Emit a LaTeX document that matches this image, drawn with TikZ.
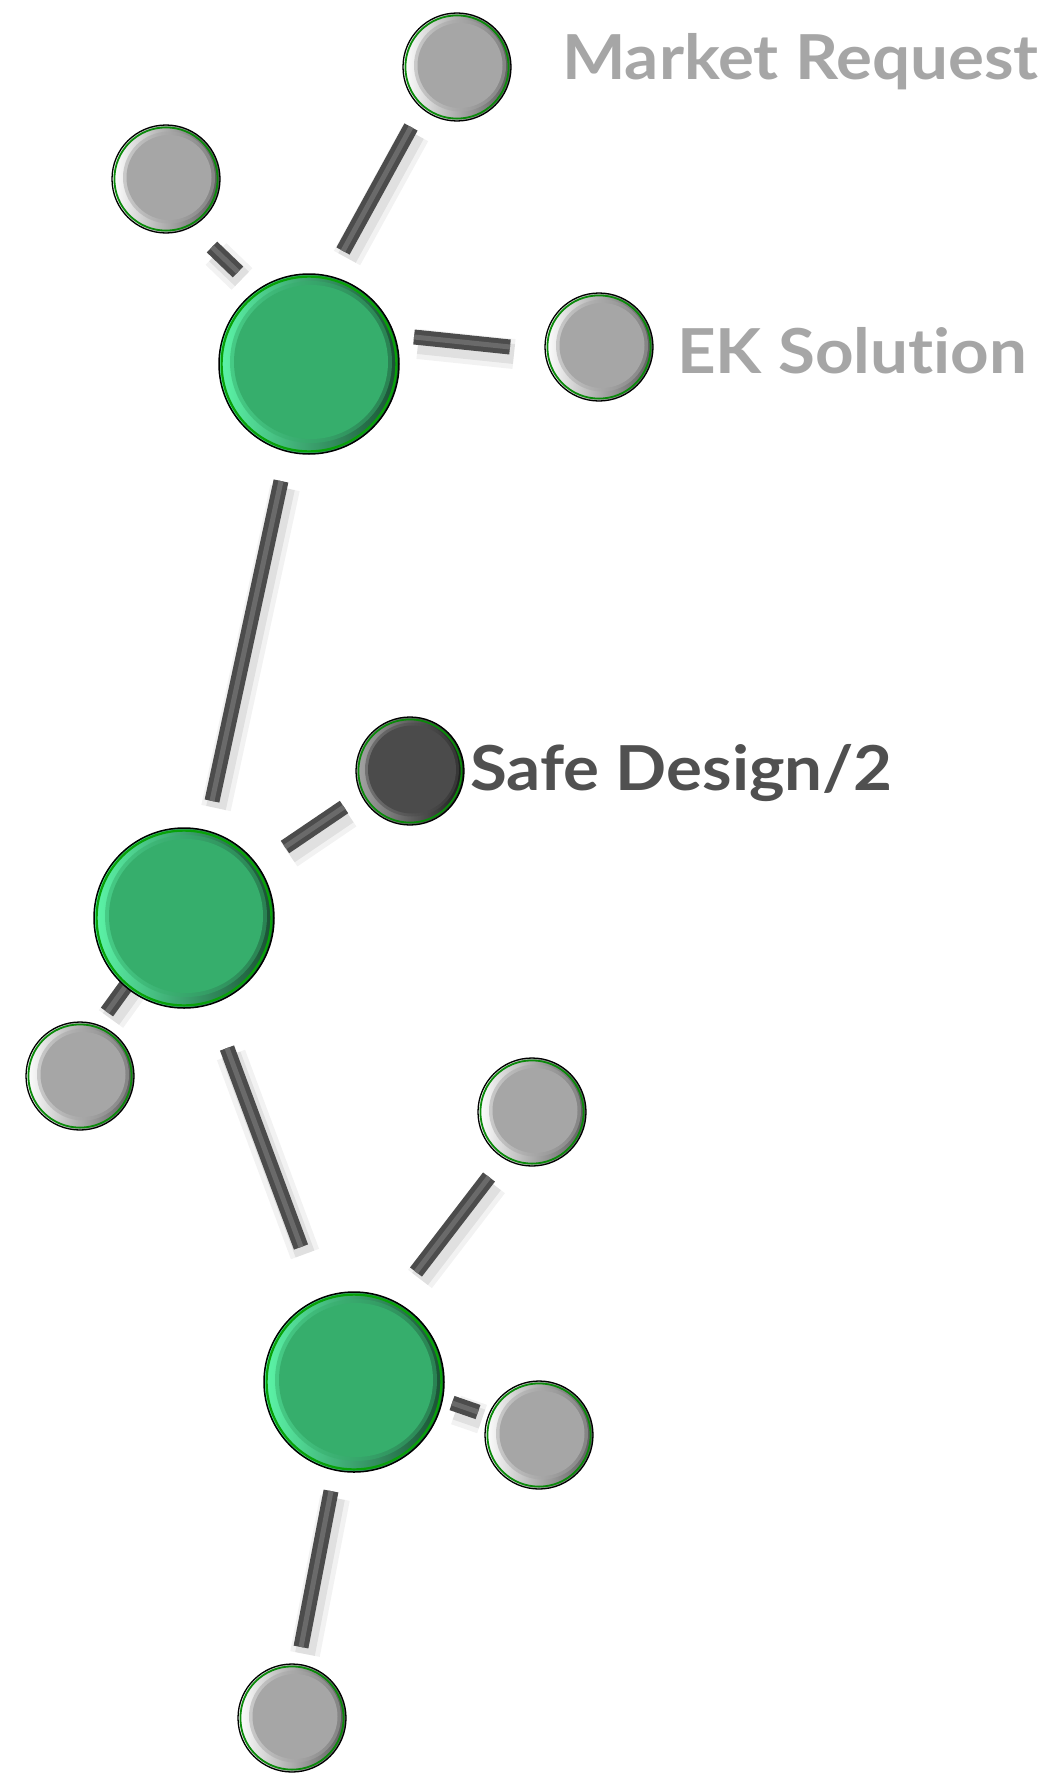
\documentclass[tikz,border=0pt]{standalone}
\usepackage{fontspec}
\setmainfont[Ligatures=NoCommon,FakeStretch=1.085]{Lato}
\usetikzlibrary{calc}
\definecolor{grn}{HTML}{36AE6C}
\definecolor{grnlight}{HTML}{5CF5A8}
\definecolor{grndark}{HTML}{1A4F33}
\definecolor{ngray}{HTML}{A6A6A6}
\definecolor{ndark}{HTML}{4B4B4B}
\definecolor{barcol}{HTML}{4C4C4C}
\definecolor{barlight}{HTML}{6A6A6A}
\definecolor{lbllight}{HTML}{A6A6A6}
\definecolor{lbldark}{HTML}{505050}
\definecolor{ring}{HTML}{0A8A0A}
\tikzset{
  smallnode/.style={circle, inner sep=0pt, minimum size=108pt, draw=black, line width=1.3pt,
    left color=white, middle color=ngray!90!white, right color=black!65,
    path picture={
      \draw[ring,line width=1.8pt] (path picture bounding box.center) circle (51.6pt);
      \fill[ngray,opacity=0.5] ($(path picture bounding box.center)+(3pt,1.5pt)$) circle (46pt);
      \fill[ngray] ($(path picture bounding box.center)+(3pt,1.5pt)$) circle (42.5pt);}},
  darknode/.style={circle, inner sep=0pt, minimum size=108pt, draw=black, line width=1.3pt,
    left color=black!35, middle color=ndark, right color=black!90,
    path picture={
      \draw[ring,line width=1.8pt] (path picture bounding box.center) circle (51.6pt);
      \fill[ndark,opacity=0.5] ($(path picture bounding box.center)+(2pt,1.5pt)$) circle (47pt);
      \fill[ndark] ($(path picture bounding box.center)+(2pt,1.5pt)$) circle (44pt);}},
  bignode/.style={circle, inner sep=0pt, minimum size=180pt, draw=black, line width=1.5pt,
    left color=grnlight, middle color=grn, right color=grndark,
    path picture={
      \draw[ring!80!green,line width=2.2pt] (path picture bounding box.center) circle (87.4pt);
      \fill[grn,opacity=0.5] ($(path picture bounding box.center)+(2pt,2pt)$) circle (81pt);
      \fill[grn] ($(path picture bounding box.center)+(2pt,2pt)$) circle (77pt);}},
  connector/.style={draw=barcol, line width=15pt, line cap=butt,
    preaction={draw=black, opacity=0.05, line width=30pt, transform canvas={shift={(4pt,-7pt)}}},
    preaction={draw=black, opacity=0.07, line width=20pt, transform canvas={shift={(4pt,-7pt)}}},
    postaction={draw=barlight, line width=5pt}},
  lbl/.style={font=\bfseries\fontsize{62}{62}\selectfont, inner sep=0pt, anchor=base west}
}
\begin{document}
\begin{tikzpicture}[x=1pt,y=-1pt]
\useasboundingbox (0,0) rectangle (1051,1774);
\fill[white] (0,0) rectangle (1051,1774);
% node positions
\coordinate (pmr) at (457,67);
\coordinate (ptl) at (166,179);
\coordinate (pg1) at (309,364);
\coordinate (pek) at (599,347);
\coordinate (pg2) at (184,918);
\coordinate (psd) at (410,771);
\coordinate (pll) at (80,1076);
\coordinate (pr1) at (532,1112);
\coordinate (pg3) at (354,1382);
\coordinate (pr2) at (539,1435);
\coordinate (pb) at (292,1718);
% connectors
\draw[connector] ($(pg1)+(34,-113)$) -- ($(pmr)+(-46,60)$);
\draw[connector] ($(ptl)+(46,68)$) -- ($(pg1)+(-71,-92)$);
\draw[connector] ($(pg1)+(105,-27)$) -- ($(pek)+(-89,0)$);
\draw[connector] ($(pg1)+(-28,117)$) -- ($(pg2)+(28,-117)$);
\draw[connector] ($(pg2)+(101,-71)$) -- ($(psd)+(-66,36)$);
\draw[connector] ($(pg2)+(-56,65)$) -- ($(pll)+(27,-64)$);
\draw[connector] ($(pg2)+(43,130)$) -- ($(pg3)+(-53,-135)$);
\draw[connector] ($(pr1)+(-43,65)$) -- ($(pg3)+(62,-110)$);
\draw[connector] ($(pg3)+(98,21)$) -- ($(pr2)+(-61,-23)$);
\draw[connector] ($(pg3)+(-23,109)$) -- ($(pb)+(9,-71)$);
% nodes
\node[smallnode] (mr) at (pmr) {};
\node[smallnode] (tl) at (ptl) {};
\node[bignode] (g1) at (pg1) {};
\node[smallnode] (ek) at (pek) {};
\node[bignode] (g2) at (pg2) {};
\node[darknode] (sd) at (psd) {};
\node[smallnode] (ll) at (pll) {};
\node[smallnode] (r1) at (pr1) {};
\node[bignode] (g3) at (pg3) {};
\node[smallnode] (r2) at (pr2) {};
\node[smallnode] (b) at (pb) {};
% labels
\node[lbl, text=lbllight] (tmr) at (562,80) {Market Request};
\node[lbl, text=lbllight] (tek) at (677,373) {EK Solution};
\node[lbl, text=lbldark] (tsd) at (470,790) {Safe Design/2};
\end{tikzpicture}
\end{document}
